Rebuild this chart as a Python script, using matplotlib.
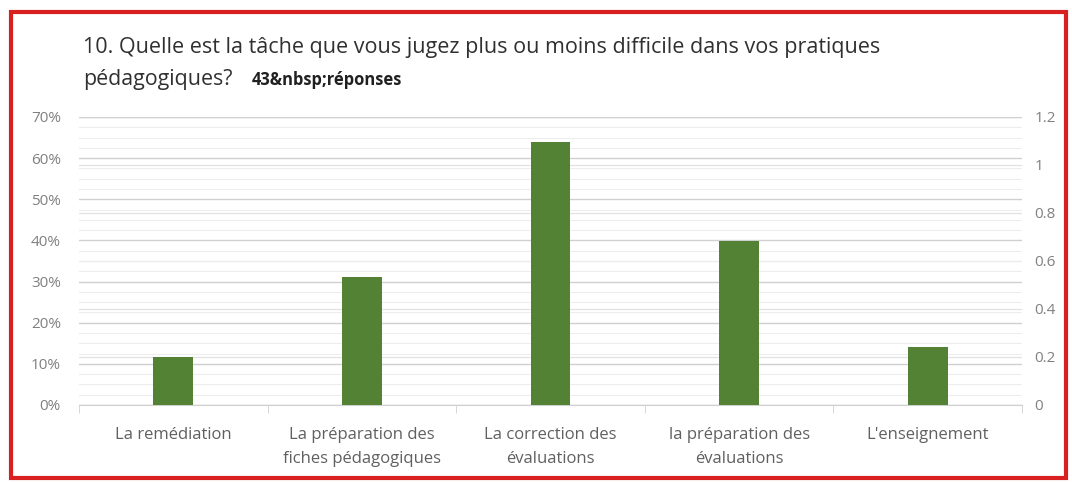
import matplotlib
matplotlib.use("Agg")
import matplotlib.pyplot as plt
from matplotlib.patches import Rectangle
from matplotlib.ticker import FuncFormatter, MultipleLocator

categories = ["La remédiation", "La préparation des\nfiches pédagogiques",
              "La correction des\névaluations", "la préparation des\névaluations",
              "L'enseignement"]
values = [11.6, 31.0, 64.0, 39.8, 14.0]
left_ticks = [0, 10, 20, 30, 40, 50, 60, 70]
right_ticks = [0, 0.2, 0.4, 0.6, 0.8, 1.0, 1.2]
right_labels = ["0", "0.2", "0.4", "0.6", "0.8", "1", "1.2"]

plt.rcParams['font.family'] = ['Open Sans', 'DejaVu Sans']

fig = plt.figure(figsize=(10.72, 4.82), dpi=100)
W, H = 1072, 482
ax = fig.add_axes([79 / W, 1 - 405 / H, (1022 - 79) / W, (405 - 117) / H])

x = list(range(len(categories)))
ax.bar(x, values, width=0.21, color="#548235", zorder=3)
ax.set_xlim(-0.5, len(categories) - 0.5)
ax.set_ylim(0, 70)
ax.set_yticks(left_ticks)
ax.yaxis.set_major_formatter(FuncFormatter(lambda v, p: f"{int(v)}%"))
ax.yaxis.set_minor_locator(MultipleLocator(2.5))
ax.grid(axis='y', which='major', color="#d0d0d0", linewidth=1.0, zorder=0)
ax.grid(axis='y', which='minor', color="#ededed", linewidth=0.8, zorder=0)

ax.set_xticks(x)
ax.set_xticklabels(categories, fontsize=12, color="#606060", linespacing=1.65)
ax.set_xticks([i + 0.5 for i in range(-1, len(categories))], minor=True)
ax.tick_params(axis='x', which='major', length=0, pad=16)
ax.tick_params(axis='x', which='minor', length=6, color="#d0d0d0")
ax.tick_params(axis='y', which='both', length=0, labelsize=11, labelcolor="#808080", pad=13)
for s in ['top', 'right', 'left']:
    ax.spines[s].set_visible(False)
ax.spines['bottom'].set_color("#d0d0d0")

ax2 = ax.twinx()
ax2.set_ylim(0, 1.2)
ax2.set_yticks(right_ticks)
ax2.set_yticklabels(right_labels)
ax2.tick_params(axis='y', length=0, labelsize=11, labelcolor="#808080", pad=9)
ax2.grid(axis='y', color="#e2e2e2", linewidth=0.9, zorder=0)
for s in ax2.spines.values():
    s.set_visible(False)
ax2.set_zorder(0)
ax.set_zorder(1)
ax.patch.set_visible(False)

renderer = fig.canvas.get_renderer()

def fit_text(xpx, ypx, s, target_w, size, **kw):
    t = fig.text(xpx / W, 1 - ypx / H, s, fontsize=size, va='center', ha='left', **kw)
    w = t.get_window_extent(renderer).width
    t.set_fontsize(size * target_w / w)
    return t

fit_text(83, 48, "10. Quelle est la tâche que vous jugez plus ou moins difficile dans vos pratiques",
         799, 14, color="#303030")
fit_text(83, 79, "pédagogiques?", 150, 14, color="#303030")
fit_text(252, 80, "43&nbsp;réponses", 151, 9, color="#202020", fontweight='bold')

fig.patches.append(Rectangle((11 / W, 4 / H), (1066 - 11) / W, (470 - 4) / H,
                             transform=fig.transFigure, fill=False,
                             edgecolor="#d92020", linewidth=3))

fig.savefig("out.png", dpi=100)
